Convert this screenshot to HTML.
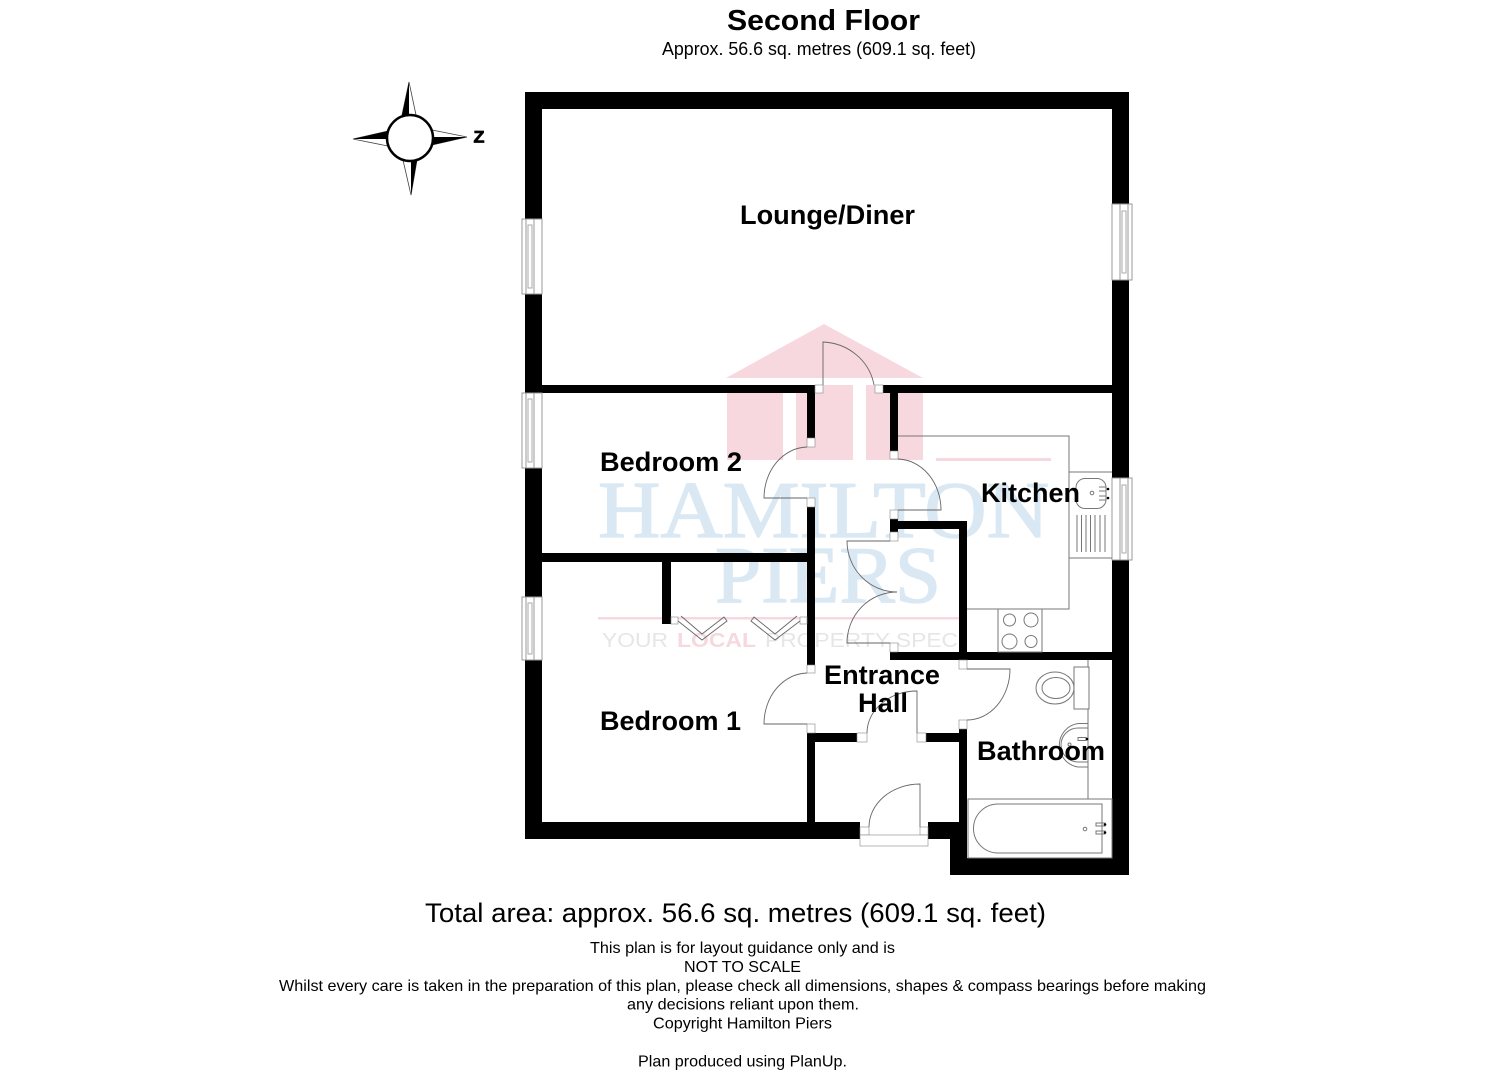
<!DOCTYPE html>
<html>
<head>
<meta charset="utf-8">
<title>Second Floor</title>
<style>
html,body{margin:0;padding:0;background:#fff;}
svg{display:block;}
text{font-family:"Liberation Sans",sans-serif;fill:#000;}
.r{font-weight:bold;font-size:27px;}
.f{font-size:16px;}
.l{fill:none;stroke:#666;stroke-width:.9;}
.j{fill:#fff;stroke:#888;stroke-width:.6;}
.k{fill:none;stroke:#777;stroke-width:1;}
</style>
</head>
<body>
<svg xmlns="http://www.w3.org/2000/svg" width="1485" height="1080" viewBox="0 0 1485 1080">
<rect width="1485" height="1080" fill="#fff"/>

<!-- watermark -->
<g fill="#f8d8df">
<polygon points="824,324 726,378 923,378"/>
<rect x="727" y="393" width="56" height="67"/>
<rect x="796" y="385" width="57" height="75"/>
<rect x="866" y="385" width="57" height="75"/>
<rect x="936" y="458" width="115" height="3"/>
<rect x="598" y="617" width="361" height="2.5"/>
</g>
<text x="598" y="537" textLength="451" lengthAdjust="spacingAndGlyphs" style="font-family:'Liberation Serif',serif;font-size:80px;fill:#d9e8f3;stroke:#d9e8f3;stroke-width:1.300px">HAMILTON</text>
<text x="715" y="602" textLength="226" lengthAdjust="spacingAndGlyphs" style="font-family:'Liberation Serif',serif;font-size:80px;fill:#d9e8f3;stroke:#d9e8f3;stroke-width:1.300px">PIERS</text>
<text x="602" y="647" textLength="66" lengthAdjust="spacingAndGlyphs" style="font-size:20px;fill:#e6e6e8">YOUR</text>
<text x="677" y="647" textLength="79" lengthAdjust="spacingAndGlyphs" style="font-size:20px;font-weight:bold;fill:#f6d9df">LOCAL</text>
<text x="765" y="647" textLength="193" lengthAdjust="spacingAndGlyphs" style="font-size:20px;fill:#e6e6e8">PROPERTY SPEC</text>

<!-- walls -->
<g fill="#000">
<rect x="525" y="92" width="604" height="17"/>
<rect x="525" y="92" width="17" height="747"/>
<rect x="1112" y="92" width="17" height="783"/>
<rect x="525" y="822" width="335" height="17"/>
<rect x="928" y="822" width="39" height="17"/>
<rect x="950" y="822" width="17" height="53"/>
<rect x="950" y="858" width="179" height="17"/>
<rect x="542" y="385" width="273" height="8"/>
<rect x="883" y="385" width="229" height="8"/>
<rect x="807" y="393" width="8" height="45"/>
<rect x="890" y="393" width="8" height="58"/>
<rect x="542" y="553" width="265" height="9"/>
<rect x="662" y="562" width="9" height="62"/>
<rect x="807" y="507" width="8" height="158"/>
<rect x="807" y="733" width="8" height="89"/>
<rect x="890" y="519" width="8" height="13"/>
<rect x="890" y="521" width="77" height="8"/>
<rect x="959" y="521" width="8" height="131"/>
<rect x="890" y="652" width="222" height="8"/>
<rect x="807" y="733" width="50" height="9"/>
<rect x="926" y="733" width="41" height="9"/>
<rect x="959" y="729" width="8" height="129"/>
</g>

<!-- door jambs -->
<g class="j">
<rect x="815" y="385" width="8" height="8"/>
<rect x="875" y="385" width="8" height="8"/>
<rect x="807" y="438" width="8" height="9"/>
<rect x="890" y="451" width="8" height="8"/>
<rect x="807" y="498" width="8" height="9"/>
<rect x="890" y="510" width="8" height="9"/>
<rect x="890" y="532" width="8" height="9"/>
<rect x="890" y="643" width="8" height="9"/>
<rect x="807" y="665" width="8" height="8"/>
<rect x="807" y="724" width="8" height="9"/>
<rect x="959" y="660" width="8" height="9"/>
<rect x="959" y="720" width="8" height="9"/>
<rect x="857" y="733" width="10" height="9"/>
<rect x="917" y="733" width="9" height="9"/>
<rect x="860" y="827" width="9" height="8"/>
<rect x="920" y="827" width="8" height="8"/>
<rect x="860" y="835" width="68" height="11"/>
<rect x="671" y="617" width="7" height="7"/>
<rect x="800" y="617" width="7" height="7"/>
</g>

<!-- door swings -->
<g class="l">
<path d="M823,385V342A54,52 0 0 1 874,385"/>
<path d="M807,447A44,51 0 0 0 764,498H807"/>
<path d="M898,459A44,51 0 0 1 941,510H898"/>
<path d="M890,541H847A50,51 0 0 0 897,592A50,51 0 0 0 847,643H890"/>
<path d="M807,673A44,51 0 0 0 764,724H807"/>
<path d="M967,669H1010A43,51 0 0 1 967,720"/>
<path d="M867,733A50,42 0 0 1 917,691V733"/>
<path d="M869,827A51,43 0 0 1 920,784V827"/>
<path d="M678,621L702,640L727,621L724,617L702,634L681,616"/>
<path d="M800,621L775,640L751,621L754,617L775,634L797,616"/>
</g>

<!-- windows -->
<g>
<rect x="522" y="219" width="20" height="75" fill="#fff" stroke="#999"/>
<rect x="526" y="219" width="8" height="75" fill="#fff" stroke="#999"/>
<rect x="528" y="225" width="4" height="63" fill="#fff" stroke="#aaa"/>
<rect x="522" y="393" width="20" height="75" fill="#fff" stroke="#999"/>
<rect x="526" y="393" width="8" height="75" fill="#fff" stroke="#999"/>
<rect x="528" y="399" width="4" height="63" fill="#fff" stroke="#aaa"/>
<rect x="522" y="597" width="20" height="63" fill="#fff" stroke="#999"/>
<rect x="526" y="597" width="8" height="63" fill="#fff" stroke="#999"/>
<rect x="528" y="603" width="4" height="51" fill="#fff" stroke="#aaa"/>
<rect x="1112" y="204" width="20" height="76" fill="#fff" stroke="#999"/>
<rect x="1120" y="204" width="8" height="76" fill="#fff" stroke="#999"/>
<rect x="1122" y="211" width="4" height="62" fill="#fff" stroke="#aaa"/>
<rect x="1112" y="478" width="20" height="82" fill="#fff" stroke="#999"/>
<rect x="1120" y="478" width="8" height="82" fill="#fff" stroke="#999"/>
<rect x="1122" y="485" width="4" height="68" fill="#fff" stroke="#aaa"/>
</g>

<!-- kitchen -->
<g class="k">
<path d="M898,436H1069V609H967"/>
<path d="M1069,472H1112M1069,558H1112M1069,472V609"/>
<rect x="1076" y="478.500" width="30" height="30" rx="9"/>
<circle cx="1092" cy="493" r="1.800"/>
<path d="M1099,487H1106V491H1099M1099,496H1106V500H1099"/>
<path d="M1077,515V552M1081.500,515V552M1086,515V552M1090.500,515V552M1095,515V552M1100,515V552M1105,515V552"/>
<rect x="998" y="609" width="44" height="43"/>
<circle cx="1009.500" cy="620" r="6"/>
<circle cx="1031" cy="620" r="7"/>
<circle cx="1009.500" cy="641.500" r="7.500"/>
<circle cx="1031" cy="641.500" r="6"/>
</g>
<circle cx="1108" cy="489" r="1.300"/>
<circle cx="1108" cy="498" r="1.300"/>

<!-- bathroom -->
<g class="k">
<path d="M1088,660V799"/>
<rect x="1074" y="667" width="15" height="42" fill="#fff"/>
<ellipse cx="1055" cy="688" rx="19" ry="16"/>
<ellipse cx="1056" cy="688" rx="14" ry="10.500"/>
<path d="M1088,723.500H1078A22,22 0 0 0 1078,767H1088"/>
<path d="M1088,728H1078A17,17 0 0 0 1078,762H1088"/>
<rect x="1078" y="737.500" width="8" height="3"/>
<circle cx="1069.500" cy="744.500" r="1.500"/>
<rect x="968" y="799" width="144" height="59"/>
<path d="M1102,804H998A24.500,24.500 0 0 0 998,853H1102Z"/>
<circle cx="1085" cy="829" r="1.800"/>
<rect x="1096" y="823" width="9" height="3"/>
<rect x="1096" y="831" width="9" height="3"/>
</g>
<circle cx="1105" cy="824.500" r="1.300"/>
<circle cx="1105" cy="832.500" r="1.300"/>
<circle cx="1087" cy="739" r="1.300"/>

<!-- compass -->
<g>
<polygon points="409,82 402,115 416,115" fill="#fff" stroke="#444" stroke-width=".8"/>
<polygon points="409,82 402,115 409,115" fill="#000"/>
<polygon points="411,195 403,160 417,160" fill="#fff" stroke="#444" stroke-width=".8"/>
<polygon points="411,195 411,160 417,160" fill="#000"/>
<polygon points="353,139 388,131 388,146" fill="#fff" stroke="#444" stroke-width=".8"/>
<polygon points="353,139 388,131 388,139" fill="#000"/>
<polygon points="467,137 432,130 432,145" fill="#fff" stroke="#444" stroke-width=".8"/>
<polygon points="467,137 432,137 432,145" fill="#000"/>
<circle cx="410" cy="138" r="23" fill="#fff" stroke="#000" stroke-width="2.500"/>
</g>
<text x="473.500" y="142.500" textLength="11" lengthAdjust="spacingAndGlyphs" style="font-size:16.500px;font-weight:bold;stroke:#000;stroke-width:.7px">Z</text>

<!-- room labels -->
<text class="r" x="740" y="224" textLength="175" lengthAdjust="spacingAndGlyphs">Lounge/Diner</text>
<text class="r" x="600" y="471" textLength="142" lengthAdjust="spacingAndGlyphs">Bedroom 2</text>
<text class="r" x="981" y="502" textLength="99" lengthAdjust="spacingAndGlyphs">Kitchen</text>
<text class="r" x="824" y="684" textLength="116" lengthAdjust="spacingAndGlyphs">Entrance</text>
<text class="r" x="858" y="712" textLength="50" lengthAdjust="spacingAndGlyphs">Hall</text>
<text class="r" x="600" y="730" textLength="141" lengthAdjust="spacingAndGlyphs">Bedroom 1</text>
<text class="r" x="977" y="760" textLength="128" lengthAdjust="spacingAndGlyphs">Bathroom</text>

<!-- titles -->
<text x="727" y="30" textLength="193" lengthAdjust="spacingAndGlyphs" style="font-size:29px;font-weight:bold">Second Floor</text>
<text x="662" y="55" textLength="314" lengthAdjust="spacingAndGlyphs" style="font-size:18px">Approx. 56.6 sq. metres (609.1 sq. feet)</text>
<text x="425" y="922" textLength="621" lengthAdjust="spacingAndGlyphs" style="font-size:27px">Total area: approx. 56.6 sq. metres (609.1 sq. feet)</text>
<text class="f" x="590" y="953" textLength="305" lengthAdjust="spacingAndGlyphs">This plan is for layout guidance only and is</text>
<text class="f" x="684" y="972" textLength="117" lengthAdjust="spacingAndGlyphs">NOT TO SCALE</text>
<text class="f" x="279" y="991" textLength="927" lengthAdjust="spacingAndGlyphs">Whilst every care is taken in the preparation of this plan, please check all dimensions, shapes &amp; compass bearings before making</text>
<text class="f" x="627" y="1009.500" textLength="232" lengthAdjust="spacingAndGlyphs">any decisions reliant upon them.</text>
<text class="f" x="653" y="1028.500" textLength="179" lengthAdjust="spacingAndGlyphs">Copyright Hamilton Piers</text>
<text class="f" x="638" y="1066.500" textLength="209" lengthAdjust="spacingAndGlyphs">Plan produced using PlanUp.</text>
</svg>
</body>
</html>
